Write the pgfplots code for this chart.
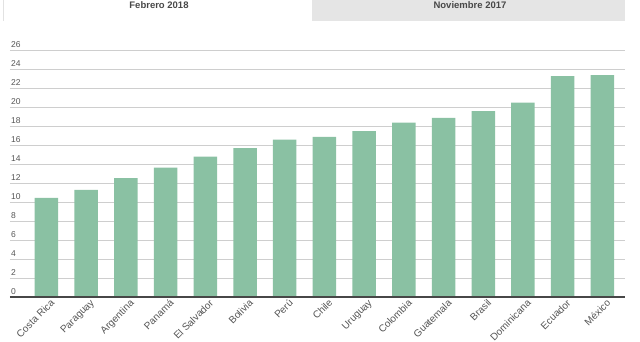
\documentclass[border=0pt]{standalone}
\usepackage{pgfplots}
\pgfplotsset{compat=1.18}
\usepackage{fontspec}
\setmainfont{Liberation Sans}
\definecolor{barc}{RGB}{138,193,163}
\definecolor{gridc}{RGB}{206,206,206}
\definecolor{tabgrey}{RGB}{229,229,229}
\definecolor{txt}{RGB}{85,85,85}
\begin{document}
\begin{tikzpicture}
\begin{axis}[
  scale only axis, width=615pt, height=246.5pt,
  xmin=-0.919, xmax=14.57, ymin=0, ymax=26,
  axis line style={draw=none},
  ytick={0,2,...,26},
  ymajorgrids, grid style={gridc, line width=0.8pt},
  major tick length=0pt,
  yticklabel style={anchor=south west, inner sep=0pt, xshift=1pt, yshift=2.5pt, font=\fontsize{8.5}{9}\selectfont, text=txt},
  /pgf/number format/assume math mode=true,
  xtick={0,...,14},
  xticklabels={Costa Rica,Paraguay,Argentina,Panamá,El Salvador,Bolivia,Perú,Chile,Uruguay,Colombia,Guatemala,Brasil,Dominicana,Ecuador,México},
  xticklabel style={rotate=45, anchor=north east, inner sep=0pt, xshift=1.5pt, yshift=-3.5pt, font=\fontsize{10}{11}\selectfont, text=txt},
  clip=false,
]
\addplot[ybar, bar width=23.5pt, fill=barc, draw=none] coordinates {
 (0,10.45) (1,11.3) (2,12.55) (3,13.65) (4,14.8) (5,15.7) (6,16.6) (7,16.9)
 (8,17.5) (9,18.4) (10,18.9) (11,19.6) (12,20.5) (13,23.3) (14,23.4)};
\draw[black!72, line width=1.3pt] (axis cs:-0.919,0) -- (axis cs:14.57,0);
\end{axis}
% tabs (origin = axis south west = image pixel (10,297))
\draw[gridc!60] (-7pt,297pt) -- (-7pt,276pt);
\fill[tabgrey] (302pt,276pt) rectangle (615pt,300pt);
\node[font=\bfseries\fontsize{9.5}{10}\selectfont, text=txt!85!black] at (149pt,292pt) {Febrero 2018};
\node[font=\bfseries\fontsize{9.5}{10}\selectfont, text=txt!85!black] at (460pt,292pt) {Noviembre 2017};
\pgfresetboundingbox
\useasboundingbox (-10pt,-45pt) rectangle (630pt,297pt);
\end{tikzpicture}
\end{document}
